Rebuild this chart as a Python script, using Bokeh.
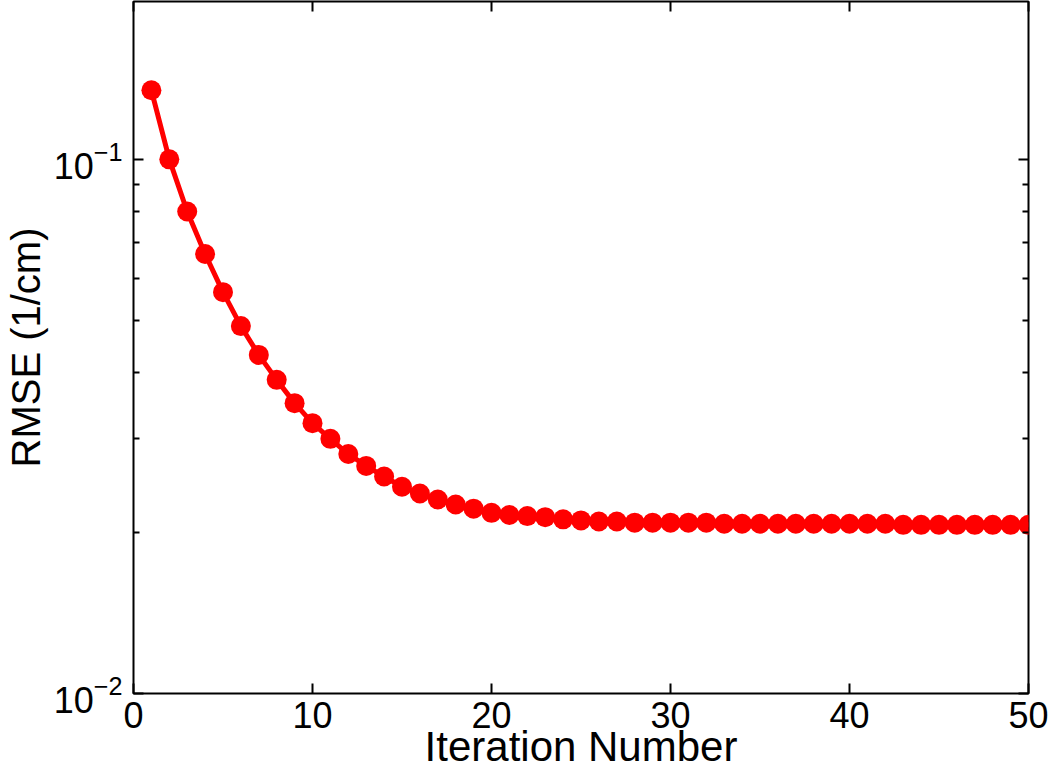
import math
from bokeh.plotting import figure
from bokeh.models import LinearAxis, LogAxis, Range1d, FixedTicker, ColumnDataSource
from bokeh.embed import file_html
from bokeh.resources import INLINE

# ---- data ----
iterations = list(range(1, 51))
rmse = [0.135, 0.1002, 0.0800, 0.0666, 0.0565, 0.0488, 0.0431, 0.0387, 0.0350, 0.0321,
        0.0300, 0.0281, 0.0267, 0.0255, 0.0244, 0.0237, 0.0231, 0.0226, 0.0222, 0.0218,
        0.0216, 0.0215, 0.0214, 0.0212, 0.0211, 0.0210, 0.0210, 0.0209, 0.0209, 0.0209,
        0.0209, 0.0209, 0.0208, 0.0208, 0.0208, 0.0208, 0.0208, 0.0208, 0.0208, 0.0208,
        0.0208, 0.0208, 0.0207, 0.0207, 0.0207, 0.0207, 0.0207, 0.0207, 0.0207, 0.0207]
x_ticks = [0, 10, 20, 30, 40, 50]
y_major_ticks = [0.01, 0.1]
y_minor_ticks = [0.02, 0.03, 0.04, 0.05, 0.06, 0.07, 0.08, 0.09]
x_label = "Iteration Number"
y_label = "RMSE (1/cm)"

FONT = "Liberation Sans"

src = ColumnDataSource(dict(x=iterations, y=rmse))

p = figure(width=1050, height=780,
           x_range=Range1d(0, 50), y_range=Range1d(0.01, 0.198),
           y_axis_type="log", output_backend="svg", toolbar_location=None,
           min_border_left=133, min_border_right=22, min_border_top=1, min_border_bottom=87)
p.xgrid.visible = False
p.ygrid.visible = False
p.outline_line_color = "black"
p.outline_line_width = 2
p.background_fill_color = "white"
p.border_fill_color = "white"

p.line("x", "y", source=src, line_color="red", line_width=5)
p.scatter("x", "y", source=src, size=20, fill_color="red", line_color=None)

yt = FixedTicker(ticks=y_major_ticks, minor_ticks=y_minor_ticks)
xt = FixedTicker(ticks=x_ticks)

bottom = p.below[0]
left = p.left[0]
bottom.ticker = xt
left.ticker = yt

top = LinearAxis(ticker=xt)
right = LogAxis(ticker=yt)
p.add_layout(top, "above")
p.add_layout(right, "right")

for ax in [bottom, left, top, right]:
    ax.axis_line_color = None
    ax.major_tick_in = 10
    ax.major_tick_out = 0
    ax.major_tick_line_color = "black"
    ax.major_tick_line_width = 2
    ax.minor_tick_in = 6
    ax.minor_tick_out = 0
    ax.minor_tick_line_color = "black"
    ax.minor_tick_line_width = 2
    ax.major_label_text_font = FONT
    ax.major_label_text_font_size = "36px"
    ax.major_label_text_color = "black"
    ax.major_label_standoff = 10

for ax in [bottom, top]:
    ax.minor_tick_line_color = None

for ax in [top, right]:
    ax.major_label_text_font_size = "1px"
    ax.major_label_text_color = None
    ax.major_label_standoff = 0

bottom.major_label_standoff = 8
bottom.axis_label = x_label
bottom.axis_label_text_font = FONT
bottom.axis_label_text_font_size = "42px"
bottom.axis_label_text_font_style = "normal"
bottom.axis_label_text_color = "black"
bottom.axis_label_standoff = -8

left.major_label_standoff = 11
left.axis_label = y_label
left.axis_label_text_font = FONT
left.axis_label_text_font_size = "40px"
left.axis_label_text_font_style = "normal"
left.axis_label_text_color = "black"
left.axis_label_standoff = 3

open("out.html", "w").write(file_html(p, INLINE))
